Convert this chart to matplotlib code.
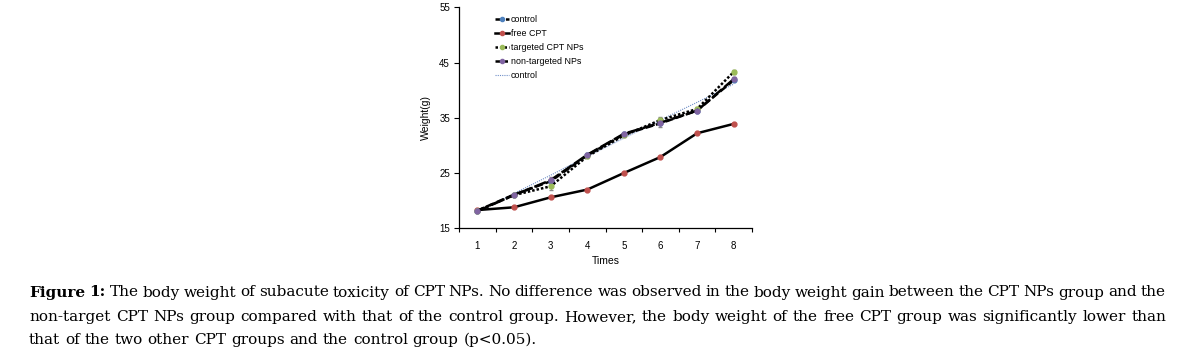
import numpy as np
import matplotlib
matplotlib.use('Agg')
import matplotlib.pyplot as plt
from matplotlib.lines import Line2D

# data
times = [1, 2, 3, 4, 5, 6, 7, 8]
control = [18.2, 21.1, 23.5, 28.2, 32.0, 34.0, 36.3, 41.8]
free_cpt = [18.3, 18.8, 20.6, 22.0, 25.0, 27.9, 32.2, 33.9]
targeted = [18.2, 21.0, 22.6, 28.0, 31.8, 34.6, 36.6, 43.3]
non_targeted = [18.1, 21.0, 23.7, 28.3, 32.1, 34.1, 36.3, 42.0]
control_trend = [18.0, 21.3, 24.6, 28.0, 31.3, 34.6, 37.8, 41.1]
err_targeted = [0.2, 0.2, 0.6, 0.3, 0.3, 0.5, 0.3, 0.4]
err_non_targeted = [0.2, 0.2, 0.5, 0.3, 0.3, 0.8, 0.3, 0.4]

legend_labels = ['control', 'free CPT', 'targeted CPT NPs', 'non-targeted NPs', 'control']
y_ticks = [15, 25, 35, 45, 55]

caption_lines = [
    'The body weight of subacute toxicity of CPT NPs. No difference was observed in the body weight gain between the CPT NPs group and the',
    'non-target CPT NPs group compared with that of the control group. However, the body weight of the free CPT group was significantly lower than',
    'that of the two other CPT groups and the control group (p<0.05).',
]

W, H = 1179, 360
fig = plt.figure(figsize=(W / 100, H / 100), dpi=100)
ax = fig.add_axes([459 / W, 1 - 228.3 / H, (752 - 459) / W, (228.3 - 7.3) / H])

sans = 'Liberation Sans'

# series
ax.plot(times, control_trend, ls=(0, (1, 1)), color='#6f8fc8', lw=0.8, zorder=2)
ax.plot(times, free_cpt, '-', color='black', lw=1.8, marker='o', ms=3.5,
        mfc='#c0504d', mec='#c0504d', zorder=3)
ax.errorbar(times, targeted, yerr=err_targeted, fmt='none', ecolor='#888888', elinewidth=0.6, capsize=1.5, zorder=2)
ax.errorbar(times, non_targeted, yerr=err_non_targeted, fmt='none', ecolor='#888888', elinewidth=0.6, capsize=1.5, zorder=2)
ax.plot(times, control, ls=(0, (3, 1.2)), color='black', lw=1.8, marker='o', ms=3.5,
        mfc='#4f81bd', mec='#4f81bd', zorder=3)
ax.plot(times, targeted, ls=(0, (1, 0.8)), color='black', lw=1.8, marker='o', ms=3.5,
        mfc='#9bbb59', mec='#9bbb59', zorder=4)
ax.plot(times, non_targeted, ls=(0, (5, 1.2)), color='black', lw=1.8, marker='o', ms=3.5,
        mfc='#8064a2', mec='#8064a2', zorder=4)

# axes styling
ax.set_xlim(0.5, 8.5)
ax.set_ylim(15, 55)
ax.set_yticks(y_ticks)
ax.set_xticks(times)
ax.set_xticks(np.arange(0.5, 9, 1), minor=True)
ax.tick_params(axis='x', which='major', length=0, pad=9, labelsize=7)
ax.tick_params(axis='x', which='minor', length=3, width=0.8, direction='out')
ax.tick_params(axis='y', length=3.5, width=0.8, direction='out', labelsize=7, pad=3)
for lbl in ax.get_xticklabels() + ax.get_yticklabels():
    lbl.set_fontfamily(sans)
for side in ['top', 'right']:
    ax.spines[side].set_visible(False)
for side in ['left', 'bottom']:
    ax.spines[side].set_linewidth(0.9)
ax.set_xlabel('Times', fontsize=7.5, family=sans, labelpad=4)
ax.set_ylabel('Weight(g)', fontsize=7.5, family=sans, labelpad=6)

# legend
handles = [
    Line2D([], [], ls=(0, (3, 1.2)), color='black', lw=1.8, marker='o', ms=3, mfc='#4f81bd', mec='#4f81bd'),
    Line2D([], [], ls='-', color='black', lw=1.8, marker='o', ms=3, mfc='#c0504d', mec='#c0504d'),
    Line2D([], [], ls=(0, (1, 0.8)), color='black', lw=1.8, marker='o', ms=3, mfc='#9bbb59', mec='#9bbb59'),
    Line2D([], [], ls=(0, (5, 1.2)), color='black', lw=1.8, marker='o', ms=3, mfc='#8064a2', mec='#8064a2'),
    Line2D([], [], ls=(0, (1, 1)), color='#6f8fc8', lw=0.8),
]
leg = ax.legend(handles, legend_labels, loc='upper left', bbox_to_anchor=(0.1, 0.995),
                frameon=False, handlelength=1.6, handletextpad=0.25,
                labelspacing=0.58, borderaxespad=0.3, prop={'family': sans, 'size': 6.4})

# caption, justified like the source
serif = 'DejaVu Serif'
renderer = fig.canvas.get_renderer()
left, right = 29, 1166
baselines = [296.5, 321.0, 344.0]

# pick the size so the last (unjustified) line ends where the reference does
probe = fig.text(0, 0, caption_lines[2], fontsize=10, family=serif)
fs = 10 * (535 - left) / probe.get_window_extent(renderer).width
probe.remove()


def place_words(words, y, justify):
    """place (word, bold) tokens along a line, spreading gaps when justify is True"""
    texts = []
    for w, bold in words:
        t = fig.text(0, 1 - y / H, w, fontsize=fs, family=serif,
                     fontweight='bold' if bold else 'normal', va='baseline', ha='left')
        texts.append(t)
    widths = [t.get_window_extent(renderer).width for t in texts]
    a = fig.text(0, 0, 'a b', fontsize=fs, family=serif)
    b = fig.text(0, 0, 'ab', fontsize=fs, family=serif)
    space = a.get_window_extent(renderer).width - b.get_window_extent(renderer).width
    a.remove()
    b.remove()
    if justify and len(words) > 1:
        gap = (right - left - sum(widths)) / (len(words) - 1)
    else:
        gap = space
    x = left
    for t, wd in zip(texts, widths):
        t.set_x(x / W)
        x += wd + gap


for i, line in enumerate(caption_lines):
    tokens = [(w, False) for w in line.split()]
    if i == 0:
        tokens = [('Figure', True), ('1:', True)] + tokens
    place_words(tokens, baselines[i], justify=(i < 2))

fig.savefig('out.png', dpi=100)
